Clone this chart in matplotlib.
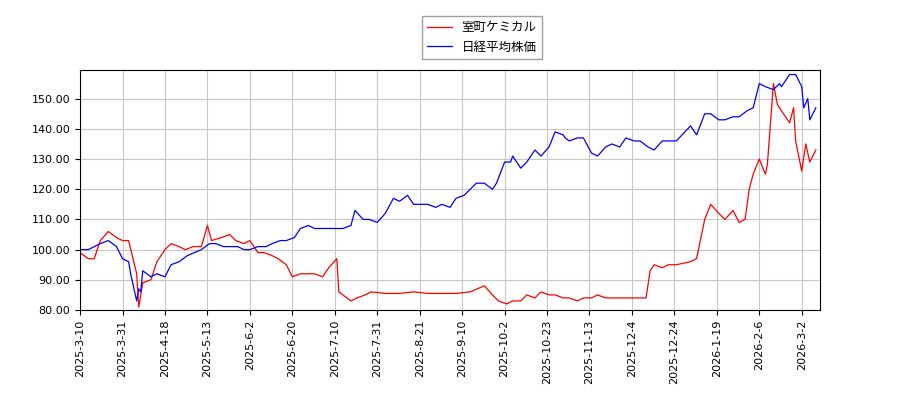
import matplotlib
matplotlib.use("Agg")
import matplotlib.pyplot as plt
import matplotlib.dates as mdates
import pandas as pd

plt.rcParams['font.family'] = ['Noto Sans CJK JP', 'DejaVu Sans']

red_dates = ["2025-03-10","2025-03-14","2025-03-17","2025-03-20","2025-03-24","2025-03-28","2025-03-31","2025-04-03","2025-04-07","2025-04-08","2025-04-10","2025-04-14","2025-04-17","2025-04-21","2025-04-24","2025-04-28","2025-05-01","2025-05-05","2025-05-09","2025-05-12","2025-05-14","2025-05-19","2025-05-23","2025-05-26","2025-05-30","2025-06-02","2025-06-06","2025-06-09","2025-06-13","2025-06-16","2025-06-20","2025-06-23","2025-06-27","2025-07-01","2025-07-04","2025-07-08","2025-07-11","2025-07-15","2025-07-16","2025-07-18","2025-07-22","2025-07-25","2025-07-29","2025-08-01","2025-08-08","2025-08-15","2025-08-22","2025-08-29","2025-09-05","2025-09-12","2025-09-19","2025-09-26","2025-09-30","2025-10-03","2025-10-07","2025-10-10","2025-10-14","2025-10-17","2025-10-21","2025-10-24","2025-10-28","2025-10-31","2025-11-04","2025-11-07","2025-11-11","2025-11-14","2025-11-18","2025-11-21","2025-11-25","2025-11-28","2025-12-02","2025-12-05","2025-12-09","2025-12-12","2025-12-15","2025-12-17","2025-12-19","2025-12-23","2025-12-26","2025-12-30","2026-01-06","2026-01-09","2026-01-13","2026-01-16","2026-01-20","2026-01-23","2026-01-27","2026-01-30","2026-02-02","2026-02-04","2026-02-06","2026-02-09","2026-02-12","2026-02-13","2026-02-16","2026-02-18","2026-02-20","2026-02-24","2026-02-26","2026-02-27","2026-03-02","2026-03-04","2026-03-06","2026-03-09"]
red_values = [99,97,97,103,106,104,103,103,92,81,89,90,96,100,102,101,100,101,101,108,103,104,105,103,102,103,99,99,98,97,95,91,92,92,92,91,94,97,86,85,83,84,85,86,85.5,85.5,86,85.5,85.5,85.5,86,88,85,83,82,83,83,85,84,86,85,85,84,84,83,84,84,85,84,84,84,84,84,84,84,93,95,94,95,95,96,97,110,115,112,110,113,109,110,120,125,130,125,128,155,148,146,142,147,136,126,135,129,133]

blue_dates = ["2025-03-10","2025-03-14","2025-03-17","2025-03-20","2025-03-24","2025-03-28","2025-03-31","2025-04-03","2025-04-04","2025-04-07","2025-04-08","2025-04-09","2025-04-10","2025-04-14","2025-04-17","2025-04-21","2025-04-24","2025-04-28","2025-05-02","2025-05-09","2025-05-13","2025-05-16","2025-05-20","2025-05-23","2025-05-27","2025-05-30","2025-06-02","2025-06-06","2025-06-10","2025-06-13","2025-06-17","2025-06-20","2025-06-24","2025-06-27","2025-07-01","2025-07-04","2025-07-08","2025-07-11","2025-07-15","2025-07-18","2025-07-22","2025-07-24","2025-07-28","2025-07-31","2025-08-04","2025-08-08","2025-08-12","2025-08-15","2025-08-19","2025-08-22","2025-08-26","2025-08-29","2025-09-02","2025-09-05","2025-09-09","2025-09-12","2025-09-16","2025-09-19","2025-09-22","2025-09-26","2025-09-30","2025-10-02","2025-10-06","2025-10-09","2025-10-10","2025-10-14","2025-10-17","2025-10-21","2025-10-24","2025-10-28","2025-10-31","2025-11-04","2025-11-05","2025-11-07","2025-11-11","2025-11-14","2025-11-18","2025-11-21","2025-11-25","2025-11-28","2025-12-02","2025-12-05","2025-12-09","2025-12-12","2025-12-16","2025-12-19","2025-12-23","2025-12-26","2025-12-30","2026-01-06","2026-01-09","2026-01-13","2026-01-16","2026-01-20","2026-01-23","2026-01-27","2026-01-30","2026-02-03","2026-02-06","2026-02-09","2026-02-12","2026-02-16","2026-02-19","2026-02-20","2026-02-24","2026-02-27","2026-03-02","2026-03-03","2026-03-05","2026-03-06","2026-03-09"]
blue_values = [100,100,101,102,103,101,97,96,92,83,87,86,93,91,92,91,95,96,98,100,102,102,101,101,101,100,100,101,101,102,103,103,104,107,108,107,107,107,107,107,108,113,110,110,109,112,117,116,118,115,115,115,114,115,114,117,118,120,122,122,120,122,129,129,131,127,129,133,131,134,139,138,137,136,137,137,132,131,134,135,134,137,136,136,134,133,136,136,136,141,138,145,145,143,143,144,144,146,147,155,154,153,155,154,158,158,154,147,150,143,147]

tick_labels = ["2025-3-10","2025-3-31","2025-4-18","2025-5-13","2025-6-2","2025-6-20","2025-7-10","2025-7-31","2025-8-21","2025-9-10","2025-10-2","2025-10-23","2025-11-13","2025-12-4","2025-12-24","2026-1-19","2026-2-6","2026-3-2"]

fig = plt.figure(figsize=(9, 4), dpi=100)
ax = fig.add_axes([0.089, 0.225, 0.822, 0.6])
ax.plot(pd.to_datetime(red_dates), red_values, color='red', lw=0.9, label='室町ケミカル')
ax.plot(pd.to_datetime(blue_dates), blue_values, color='blue', lw=0.9, label='日経平均株価')
ticks = pd.date_range("2025-03-10", periods=len(tick_labels), freq="21D")
ax.set_xticks(ticks)
ax.set_xticklabels(tick_labels, rotation=90, fontsize=8, family='DejaVu Sans')
ax.set_xlim(pd.Timestamp("2025-03-10"), pd.Timestamp("2026-03-11"))
ax.set_ylim(80, 159.5)
ax.set_yticks(range(80, 151, 10))
ax.set_yticklabels([f"{v:.2f}" for v in range(80, 151, 10)], fontsize=8, family='DejaVu Sans')
ax.grid(True, color='#c8c8c8', lw=0.8)
fig.legend(loc='upper center', bbox_to_anchor=(0.535, 0.975), fontsize=9, fancybox=False, edgecolor='#888888')
fig.savefig("out.png")
